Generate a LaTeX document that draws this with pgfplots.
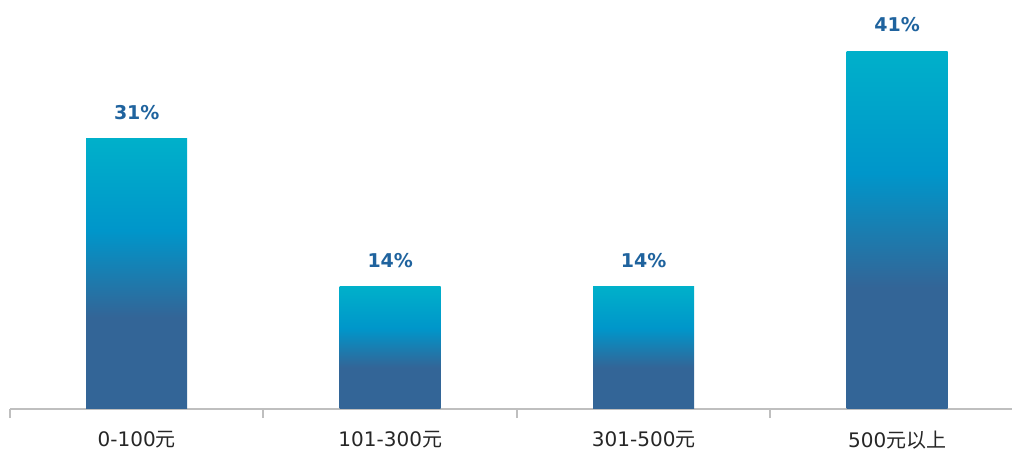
\documentclass[border=0pt]{standalone}
\usepackage{pgfplots}
\pgfplotsset{compat=1.18}
\usepackage{fontspec}
\setmainfont{DejaVu Sans}
\newfontfamily\cjk{Noto Sans CJK SC}
\definecolor{ctop}{RGB}{0,176,202}
\definecolor{cmid}{RGB}{0,150,202}
\definecolor{cbot}{RGB}{51,101,151}
\definecolor{lblc}{RGB}{31,99,158}
\definecolor{axgrey}{RGB}{191,191,191}
\pgfdeclareverticalshading{barshade}{100bp}{color(0bp)=(cbot); color(25bp)=(cbot); color(42bp)=(cbot); color(58bp)=(cmid); color(75bp)=(ctop); color(100bp)=(ctop)}
\begin{document}
\begin{tikzpicture}
\useasboundingbox (0,0) rectangle (1012bp,459bp);
\begin{axis}[
  at={(10bp,50bp)}, anchor=south west,
  scale only axis,
  width=1014bp, height=409bp,
  xmin=-0.5, xmax=3.5, ymin=0, ymax=46.9,
  axis x line*=bottom, axis y line=none,
  axis line style={axgrey, line width=1.5bp},
  xtick={0,1,2,3},
  xticklabels={0-100{\cjk 元},101-300{\cjk 元},301-500{\cjk 元},500{\cjk 元以上}},
  major tick length=0pt,
  minor xtick={-0.5,0.5,1.5,2.5,3.5},
  minor tick length=9bp,
  xtick align=outside,
  minor tick style={axgrey, line width=2bp},
  xticklabel style={font=\fontsize{20bp}{24bp}\selectfont, text=black!85, inner sep=0pt, yshift=-22bp},
  ybar, bar width=101bp, bar shift=0pt,
  point meta=explicit symbolic,
  nodes near coords={\pgfplotspointmeta\%},
  every node near coord/.append style={font=\fontsize{19bp}{22bp}\selectfont\bfseries, text=lblc, anchor=south, inner sep=0pt, yshift=19bp},
]
\addplot[draw=none, shading=barshade] coordinates {(0,31) [31]};
\addplot[draw=none, shading=barshade] coordinates {(1,14) [14]};
\addplot[draw=none, shading=barshade] coordinates {(2,14) [14]};
\addplot[draw=none, shading=barshade] coordinates {(3,41) [41]};
\end{axis}
\end{tikzpicture}
\end{document}
